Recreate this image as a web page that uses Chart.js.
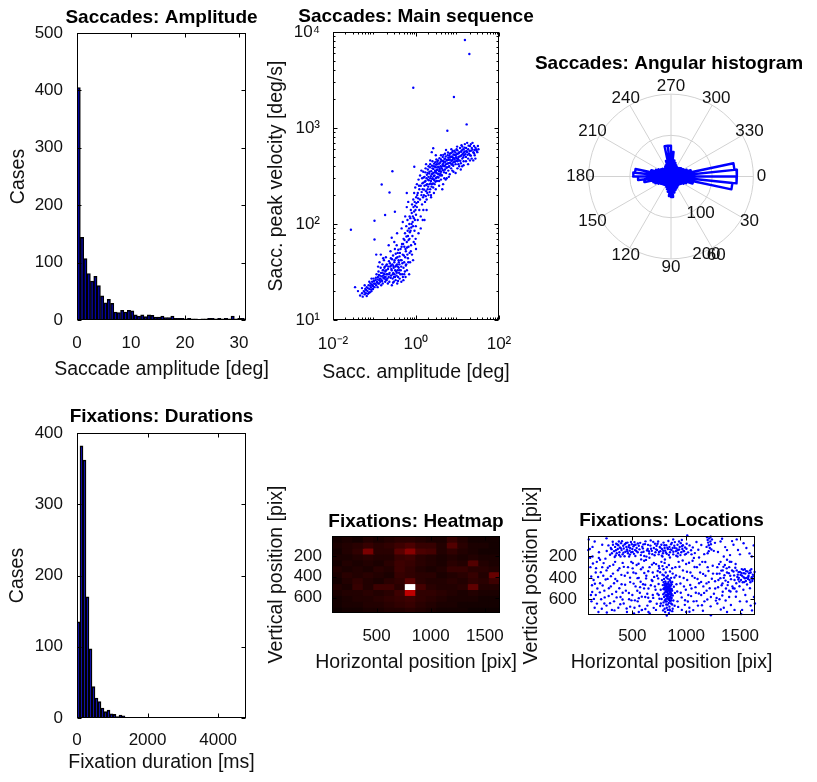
<!DOCTYPE html>
<html><head><meta charset="utf-8">
<script src="https://cdn.jsdelivr.net/npm/chart.js@4.4.1/dist/chart.umd.min.js"></script>
<style>
html,body{margin:0;padding:0;background:#fff;}
#fig{position:relative;width:817px;height:782px;overflow:hidden;background:#fff;}
canvas{position:absolute;}
</style></head><body><div id="fig">
<canvas id="cAmp" width="285" height="392" style="left:0px;top:0px"></canvas>
<canvas id="cMain" width="290" height="392" style="left:262px;top:0px"></canvas>
<canvas id="cRose" width="290" height="270" style="left:527px;top:40px"></canvas>
<canvas id="cDur" width="285" height="387" style="left:0px;top:395px"></canvas>
<canvas id="cHeat" width="265" height="220" style="left:262px;top:470px"></canvas>
<canvas id="cLoc" width="290" height="220" style="left:517px;top:470px"></canvas>
</div>
<script>
// ================= DATA =================
const ampBinWidth = 0.62;
const ampCounts = [405,144,107,81,68,76,60,42,30,36,29,14,13,17,14,17,16,9,7,9,6,9,8,5,5,7,4,4,7,3,3,3,2,3,2,2,1,2,2,3,3,2,3,2,3,2,7,2,3,3];
const ampXTicks = [0,10,20,30];
const ampYTicks = [0,100,200,300,400,500];

const durBinWidth = 85;
const durCounts = [135,382,362,170,97,44,28,23,14,9,11,6,5,2,4,3];
const durXTicks = [0,2000,4000];
const durYTicks = [0,100,200,300,400];

const msXTicks = [0.01,1,100];
const msYTicks = [10,100,1000,10000];
const mainSeqPoints = [
[0.045,18],[0.05,19],[0.052,17.5],[0.055,20],[0.058,18.5],[0.06,21],[0.062,19],[0.065,22],[0.068,20],[0.07,18.8],[0.072,23],[0.075,21],[0.078,19.5],[0.08,24],[0.082,22],[0.085,20],[0.088,25],[0.09,23],[0.092,21],[0.095,27],[0.098,24],[0.1,22],[0.05,21.5],[0.065,17.8],[0.075,25],[0.085,27],[0.058,23],[0.04,20],
[0.105,26],[0.11,23],[0.112,30],[0.115,25],[0.121,28],[0.119,22],[0.125,32],[0.131,26],[0.129,24],[0.135,29],[0.141,35],[0.139,27],[0.145,23],[0.151,31],[0.148,26],[0.155,38],[0.161,29],[0.158,24],[0.165,33],[0.171,27],[0.169,42],[0.175,30],[0.181,25],[0.178,36],[0.185,28],[0.191,33],[0.188,45],[0.195,26],[0.201,30],[0.198,38],[0.122,36],[0.162,44],[0.142,48],[0.132,40],
[0.21,24],[0.212,34],[0.22,28],[0.223,41],[0.231,31],[0.228,25],[0.24,36],[0.243,52],[0.251,29],[0.248,44],[0.26,33],[0.262,23],[0.27,38],[0.273,27],[0.28,47],[0.283,31],[0.29,35],[0.292,25],[0.3,40],[0.303,30],[0.31,55],[0.313,28],[0.32,36],[0.323,26],[0.33,44],[0.333,32],[0.34,29],[0.343,60],[0.35,38],[0.353,24],[0.36,33],[0.363,50],[0.37,28],[0.38,42],[0.383,35],[0.39,31],[0.4,46],[0.404,27],[0.397,38],[0.22,60],[0.26,72],[0.3,65],[0.35,80],
[0.42,30],[0.424,55],[0.44,36],[0.443,25],[0.45,42],[0.46,62],[0.463,30],[0.48,48],[0.483,28],[0.5,35],[0.503,70],[0.497,26],[0.52,40],[0.523,58],[0.54,32],[0.543,80],[0.55,45],[0.56,28],[0.57,52],[0.58,38],[0.583,95],[0.6,65],[0.604,33],[0.62,48],[0.623,110],[0.64,75],[0.65,40],[0.66,58],[0.68,90],[0.683,30],[0.7,50],[0.703,120],[0.697,70],[0.45,90],[0.55,120],[0.48,105],[0.6,150],[0.65,170],
[0.72,40],[0.74,85],[0.75,140],[0.76,60],[0.78,100],[0.8,48],[0.804,160],[0.82,75],[0.84,120],[0.85,95],[0.86,180],[0.88,65],[0.9,135],[0.904,210],[0.92,85],[0.94,110],[0.95,155],[0.96,240],[0.98,70],[1.0,125],[1.01,190],[0.99,95],[1.05,150],[1.052,260],[1.1,110],[1.104,210],[1.12,170],[1.15,80],[1.153,290],[1.2,140],[1.203,230],[0.85,42],[1.0,55],
[1.25,180],[1.253,320],[1.3,120],[1.304,250],[1.35,200],[1.4,160],[1.404,300],[1.45,230],[1.5,270],[1.503,140],[1.497,350],[1.55,200],[1.6,250],[1.604,310],[1.65,170],[1.7,280],[1.704,380],[1.75,220],[1.8,300],[1.804,180],[1.85,260],[1.9,340],[1.904,230],[1.95,290],[2.0,200],[2.004,400],[1.996,310],[1.3,90],[1.6,110],
[2.1,260],[2.104,350],[2.2,230],[2.204,300],[2.196,420],[2.3,280],[2.304,190],[2.4,330],[2.404,260],[2.5,380],[2.504,300],[2.496,450],[2.6,240],[2.604,340],[2.7,290],[2.704,400],[2.8,320],[2.804,260],[2.9,360],[2.904,440],[3.0,300],[3.004,390],[2.996,230],[3.1,340],[3.2,280],[3.204,420],[3.3,370],[3.304,310],[3.4,460],[3.5,330],[3.504,390],[3.6,280],[3.7,360],[3.704,430],[3.8,320],[3.9,400],[4.0,350],[4.004,470],[3.996,290],[2.4,560],[3.0,520],
[4.2,380],[4.204,320],[4.4,420],[4.404,500],[4.6,360],[4.604,450],[4.8,400],[4.804,300],[5.0,480],[5.004,370],[4.996,540],[5.3,420],[5.304,340],[5.6,460],[5.604,390],[5.8,520],[6.0,430],[6.004,360],[5.996,490],[6.3,400],[6.5,470],[6.504,540],[6.8,430],[7.0,380],[7.004,500],[7.3,460],[7.5,560],[7.504,420],[7.8,490],[8.0,440],[8.004,530],[4.5,260],[5.5,300],[6.5,330],[7.5,360],
[8.5,470],[8.504,580],[9.0,420],[9.004,520],[9.5,480],[9.504,600],[10,450],[10.04,540],[9.96,380],[10.5,500],[11,560],[11.04,460],[11.5,620],[12,510],[12.04,430],[12.5,580],[13,480],[13.04,640],[13.5,540],[14,600],[14.04,450],[14.5,520],[15,570],[15.04,680],[9,340],[11,400],[13,400],
[16,500],[16.1,620],[17,560],[17.1,700],[18,480],[18.1,600],[19,540],[20,650],[20.1,520],[21,580],[22,480],[22.1,620],[24,560],[25,650],[26,520],[28,600],[30,560],[32,600],[18,420],[24,460],[27,480],[23,700],
[1.37,215],[1.42,265],[1.48,190],[1.53,305],[1.58,228],[1.63,275],[1.68,345],[1.72,195],[1.77,255],[1.83,325],[1.87,210],[1.93,370],[1.97,245],[2.04,285],[2.08,335],[2.13,215],[2.17,390],[2.24,265],[2.28,315],[2.33,355],[2.37,245],[2.43,405],[2.47,295],[2.53,335],[2.57,265],[2.63,375],[2.68,315],[2.73,425],[2.77,285],[2.83,345],[2.88,395],[2.93,275],[2.97,355],[3.05,415],[3.12,305],[3.18,365],[3.25,445],[3.35,335],[3.42,395],[3.48,305],[3.55,425],[3.62,355],[3.68,485],[3.75,375],[3.85,335],[3.92,445],[4.05,395],[4.12,325],[4.25,455],[4.35,365],[4.45,405],[4.55,525],[4.65,435],[4.75,345],[4.85,475],[4.95,405],[5.1,445],[5.2,505],[5.4,385],[5.5,465],[5.7,425],[5.9,555],[6.1,465],[6.2,395],[6.4,515],[6.6,435],[6.7,495],[6.9,545],[7.1,455],[7.2,415],[7.4,505],[7.6,465],[7.7,575],[7.9,405],[8.2,485],[8.4,525],[8.7,445],[8.9,555],[9.2,495],[9.4,455],[9.7,535],[9.9,585],[10.3,475],[10.7,545],[11.2,505],[11.7,455],[12.2,565],[12.7,525],[13.2,595],[13.8,495],[14.3,555],[14.8,625],[15.5,535],[16.5,575],[17.5,525],[18.5,655],[19.5,575],[21,515],[23,595],[25,545],[27,625],[29,575],[31,650],[26,590],[20,460],[14,410],[12,370],[8,350],[6.2,310],[3.6,250],[2.3,200],[5.2,290],[1.8,140],[1.45,110],[2.7,210],[4.3,230],[10.5,420],[16,450],[21,680],[12.5,660],[9.8,640],[7.1,600],[5.3,590],[4,520],[3.1,470],[2.2,460],[1.75,420],[1.35,360],
[0.057,19.7],[0.063,20.5],[0.069,21.5],[0.074,19.2],[0.079,22.8],[0.083,20.8],[0.087,23.5],[0.093,22.5],[0.097,25.5],[0.103,23.8],[0.108,27.5],[0.113,24.5],[0.118,26.5],[0.123,24],[0.128,29.5],[0.133,27],[0.138,25],[0.143,31],[0.148,28.5],[0.153,25.5],[0.158,33],[0.163,27.5],[0.168,30.5],[0.173,35],[0.178,28],[0.183,32],[0.188,26.5],[0.193,37],[0.198,30],[0.205,27],[0.215,36],[0.225,30],[0.235,39],[0.245,27.5],[0.255,34],[0.265,43],[0.275,30],[0.285,36.5],[0.295,28],[0.305,42],[0.315,33],[0.325,49],[0.335,37],[0.345,31],[0.355,45],[0.365,36],[0.375,54],[0.385,40],[0.395,33],[0.41,50],[0.43,42],[0.45,58],[0.47,39],[0.49,62],[0.51,47],[0.53,68],[0.56,55],[0.59,74],[0.61,57],[0.63,85],[0.66,68],[0.69,100],[0.71,82],[0.73,115],[0.77,92],[0.79,130],[0.83,105],[0.87,150],[0.89,115],[0.93,170],[0.97,140],[1.02,165],[1.07,200],[1.13,185],[1.18,250],[0.43,33],[0.37,25.5],[0.52,30],[0.57,37],[0.64,44],[0.75,52],[0.95,62],[0.25,37],[0.28,24.5],
[0.027,87],[0.034,22],[0.1,108],[0.1,69],[0.11,48],[0.149,258],[0.18,124],[0.23,213],[0.27,355],[0.31,134],[0.6,210],[0.86,2630],[0.91,395],[2.6,615],[5.7,935],[8.2,2100],[15.1,8260],[19.3,5890],[16.6,1090]
];

const roseBinDeg = 6;
const roseCounts = [160,150,55,40,35,30,28,25,25,28,30,32,35,40,50,48,38,32,28,25,25,25,25,28,30,35,40,45,65,80,92,88,50,40,35,30,28,25,25,25,28,30,40,75,75,60,40,35,30,28,25,25,28,30,32,35,40,50,155,160];
const polarRings = [100,200];
const polarAngles = [0,30,60,90,120,150,180,210,240,270,300,330];

const heatXRange = [88,1640];
const heatYRange = [8,748];
const heatCounts = [
[3,4,3,5,4,5,6,6,5,4,4,8,5,3,3,3],
[4,5,6,8,6,7,9,11,8,8,5,12,6,4,4,3],
[3,5,7,18,6,6,13,20,11,10,5,7,5,4,3,3],
[4,4,5,6,5,5,8,9,6,5,4,5,4,5,4,4],
[3,5,4,5,4,6,9,8,6,5,4,6,5,12,5,4],
[5,4,5,4,6,5,9,7,5,4,5,8,8,6,6,5],
[4,6,5,6,5,4,8,7,6,6,4,5,6,8,5,15],
[3,5,7,5,4,6,7,13,6,5,5,6,5,7,6,9],
[5,4,8,5,9,9,6,100,10,6,5,5,6,14,5,5],
[4,5,5,6,5,6,9,28,7,7,6,5,4,5,4,4],
[3,4,5,5,6,7,8,9,7,6,5,4,4,4,3,3],
[3,4,4,5,5,6,7,8,6,5,4,4,3,3,3,3],
[2,3,3,4,4,5,5,6,5,4,3,3,3,2,2,2]
];
const posXTicks = [500,1000,1500];
const posYTicks = [200,400,600];
const fixationPoints = [
[300,120],[320,90],[330,150],[340,110],[350,80],[355,170],[365,130],[370,95],[380,160],[385,115],[395,75],[400,140],[410,180],[415,100],[420,125],[430,85],[435,155],[445,110],[450,135],[455,70],[460,170],[470,95],[475,145],[480,120],[490,160],[495,85],[500,130],[510,105],[515,175],[525,140],[530,90],[540,120],[550,160],[560,100],[345,190],[390,200],[310,170],[470,200],[520,65],[375,60],
[700,120],[710,80],[715,160],[725,100],[730,140],[740,60],[745,180],[755,110],[760,150],[770,90],[775,130],[785,170],[790,70],[800,120],[805,145],[815,95],[820,175],[830,130],[835,55],[845,110],[850,160],[860,85],[865,140],[875,120],[880,180],[890,100],[895,65],[905,150],[910,125],[920,90],[925,170],[935,135],[940,110],[950,75],[955,160],[965,130],[970,95],[980,150],[990,115],[1000,175],[1005,80],[960,45],[880,40],[780,200],[850,210],
[1195,20],[1200,45],[1205,70],[1210,95],[1215,30],[1220,120],[1225,60],[1230,85],[1235,135],[1210,150],[1190,110],[1240,40],[1228,15],[1200,170],
[790,440],[800,470],[805,500],[810,450],[815,530],[820,480],[825,560],[830,510],[835,440],[840,590],[845,470],[850,540],[855,500],[860,610],[865,460],[870,520],[795,580],[800,540],[810,600],[820,620],[830,570],[840,520],[850,480],[860,560],[800,510],[812,490],[822,455],[835,600],[845,610],[855,580],[865,550],[825,590],[818,515],[838,495],[848,525],[858,445],[808,565],[828,480],[842,555],[852,620],
[770,250],[780,290],[790,320],[800,260],[810,350],[820,300],[830,380],[840,280],[850,340],[860,400],[870,310],[780,370],[795,410],[815,395],[845,415],[875,360],[765,640],[785,660],[800,690],[815,650],[830,700],[845,670],[860,640],[875,690],[790,630],[820,680],[850,705],[870,650],[805,720],[840,730],
[1470,330],[1480,370],[1490,400],[1500,345],[1510,420],[1520,380],[1530,325],[1540,440],[1550,360],[1560,400],[1570,340],[1580,380],[1590,420],[1600,350],[1610,395],[1620,370],[1495,435],[1515,355],[1535,395],[1555,430],[1575,410],[1595,330],[1615,430],[1545,320],[1485,415],
[1290,300],[1300,420],[1310,360],[1320,250],[1330,470],[1340,330],[1350,400],[1360,280],[1370,500],[1380,350],[1390,440],[1400,300],[1410,380],[1420,250],[1430,480],[1440,340],[1450,420],[1460,270],[1400,520],[1340,530],[1450,500],[1380,230],
[105,130],[110,300],[115,560],[120,620],[130,200],[140,420],[150,680],[160,350],[170,250],[175,500],[185,720],[190,160],[200,450],[210,600],[220,300],[230,380],[240,520],[250,220],[260,660],[270,410],[280,570],[290,290],[300,480],[310,700],[320,360],[330,620],[340,250],[350,530],[360,430],[370,680],[380,310],[390,580],[400,460],[410,260],[420,640],[430,380],[440,520],[450,720],[460,300],[470,600],[480,440],[490,250],[500,560],[510,350],[520,680],[530,480],[540,280],[550,620],[560,400],[570,540],[580,320],[590,700],[600,460],[610,240],[620,580],[630,380],[640,660],[650,500],[660,300],[670,620],[680,420],[690,560],[700,260],[710,480],[720,700],[730,380],[745,560],[750,310],[125,470],[200,230],[260,330],[330,450],[410,540],[480,670],[560,720],[650,720],[160,560],[240,640],
[900,300],[910,460],[920,620],[930,250],[940,390],[950,540],[960,700],[970,330],[980,480],[990,610],[1000,270],[1010,420],[1020,560],[1030,680],[1040,350],[1050,500],[1060,240],[1070,620],[1080,400],[1090,540],[1100,300],[1110,660],[1120,450],[1130,350],[1140,560],[1150,250],[1160,480],[1170,620],[1180,380],[1190,520],[1200,300],[1210,440],[1230,580],[1250,360],[1270,500],[1290,640],[920,200],[1050,180],[1120,210],[1000,720],
[1310,600],[1350,680],[1400,580],[1450,700],[1500,620],[1550,560],[1600,660],[1380,720],[1520,700],[1630,580],
[1320,60],[1380,140],[1440,90],[1500,180],[1560,120],[1610,200],[1350,200],[1470,40],
[95,40],[150,60],[220,90],[260,30],[130,110],
[1010,2],[820,752],[1230,750],[90,140],
[262,148],[278,96],[293,183],[307,131],[318,62],[336,205],[348,142],[361,88],[377,186],[392,122],[404,57],[417,164],[428,198],[441,73],[453,151],[466,112],[478,182],[487,64],[503,157],[517,93],[528,196],[537,148],[551,78],[566,133],[579,187],[592,109],[604,156],[618,84],[631,201],[643,129],[657,172],[668,98],[681,147],[694,63],[707,189],[721,133],[734,81],[748,158],[761,117],[774,192],[787,146],[798,94],[812,163],[826,117],[839,186],[853,133],[867,72],[881,155],[894,119],[908,193],[921,142],[934,59],[947,187],[961,104],[976,148],[989,182],[1003,127],[1018,161],[1032,96],[1046,142],
[573,72],[586,161],[598,124],[611,196],[622,58],[636,143],[646,91],[659,212],[674,127],[686,178],[582,227],[627,232],[671,49],[603,86],[654,151],[1062,115],[1081,168],[1096,64],[1113,137],[1141,92],[1168,178],[1257,147],[1072,213],
[108,212],[118,388],[127,532],[134,265],[143,597],[152,455],[163,309],[171,641],[182,392],[189,213],[198,536],[207,348],[216,689],[224,471],[233,262],[243,583],[252,416],[263,724],[272,305],[282,498],[293,637],[301,384],[312,552],[323,277],[334,705],[342,411],[354,583],[366,329],[379,497],[388,648],[398,372],[409,603],[421,297],[433,465],[447,687],[456,352],[468,542],[479,398],[492,611],[503,311],
[512,454],[524,611],[533,358],[546,521],[558,268],[566,664],[577,437],[588,576],[597,302],[609,499],[621,692],[628,405],[639,549],[648,338],[661,622],[672,469],[683,276],[694,588],[703,391],[716,512],[727,643],[736,336],[744,458],[752,596],[516,733],[587,702],[662,733],[721,271],[549,403],[611,354],[687,429],[733,548],[505,262],[572,487],[648,587],[699,681],[740,405],[620,465],[560,590],[690,350],
[746,289],[758,347],[764,512],[772,598],[776,421],[783,468],[788,553],[793,377],[797,492],[802,612],[806,433],[811,528],[816,466],[819,575],[823,503],[827,407],[832,547],[836,459],[839,636],[843,498],[847,576],[851,427],[854,523],[858,471],[862,592],[866,505],[871,438],[876,566],[881,612],[886,484],[891,397],[896,541],[788,505],[799,458],[808,486],[817,557],[826,533],[833,487],[841,463],[849,509],[857,537],[864,585],[811,621],[829,651],[846,697],[871,712],[786,705],[759,664],[893,661],[803,228],
[906,377],[917,528],[926,672],[938,296],[947,453],[959,583],[968,237],[977,402],[988,653],[997,512],[1008,343],[1016,621],[1027,258],[1038,467],[1046,571],[1057,382],[1066,702],[1078,299],[1087,487],[1097,618],[1106,411],[1118,546],[1127,276],[1139,438],[1147,657],[1158,363],[1167,541],[1178,251],[1189,452],[1197,603],[1208,336],[1219,497],[1228,667],[1239,408],[1247,286],[1258,549],[1269,432],[1277,613],[1156,708],[1031,718],
[1286,362],[1297,488],[1306,271],[1318,403],[1327,332],[1338,452],[1347,297],[1356,375],[1366,426],[1377,311],[1386,468],[1397,356],[1406,249],[1417,412],[1427,331],[1436,497],[1446,377],[1457,305],[1466,451],[1476,392],[1487,346],[1496,479],[1506,372],[1517,318],[1526,441],[1537,356],[1546,404],[1557,337],[1566,462],[1577,392],[1586,356],[1597,441],[1606,318],[1617,412],[1627,386],[1636,345],[1532,512],[1468,528],[1593,497],[1412,528],
[1268,72],[1296,158],[1334,34],[1363,112],[1408,187],[1427,56],[1482,139],[1534,76],[1589,171],[1628,96],
[1283,588],[1322,697],[1367,612],[1416,655],[1462,577],[1511,738],[1563,621],[1612,705],[1639,640],[1336,566]
];

// ================= STYLE / HELPERS =================
const FONT = '"Liberation Sans", Arial, Helvetica, sans-serif';
const TICK_FONT = {family: FONT, size: 17};
const TXT = '#111';
const BAR_FACE = 'rgb(0,0,170)';
const DOT = 'rgb(0,0,255)';
const SUP = {'-':'\u207B','0':'\u2070','1':'\u00B9','2':'\u00B2','3':'\u00B3','4':'\u2074'};
const logLabel = v => '10' + String(Math.round(Math.log10(v))).split('').map(c => SUP[c]).join('');

function axis(type, min, max, tickVals, pad, isX, size, extra) {
  return Object.assign({
    type, min, max, offset: false,
    grid: {display: false, drawTicks: false},
    border: {display: false},
    ticks: {font: TICK_FONT, color: TXT, padding: pad, autoSkip: false, maxRotation: 0, minRotation: 0,
            callback: type === 'logarithmic' ? (v => logLabel(v)) : (v => String(v))},
    afterBuildTicks: s => { s.ticks = tickVals.map(v => ({value: v})); },
    afterFit: s => { if (isX) s.height = size; else s.width = size; }
  }, extra || {});
}

const matlabPlugin = {
  id: 'matlab',
  afterDraw(chart, args, o) {
    if (!o || !o.on) return;
    const ctx = chart.ctx, a = chart.chartArea;
    const xs = chart.scales.x, ys = chart.scales.y;
    ctx.save();
    ctx.strokeStyle = '#000'; ctx.lineWidth = 1;
    const L = Math.round(a.left) + 0.5, R = Math.round(a.right) - 0.5;
    const T = Math.round(a.top) + 0.5, B = Math.round(a.bottom) - 0.5;
    ctx.beginPath();
    const xMark = (v, len) => { const p = Math.round(xs.getPixelForValue(v)) + 0.5; ctx.moveTo(p, B); ctx.lineTo(p, B - len); ctx.moveTo(p, T); ctx.lineTo(p, T + len); };
    const yMark = (v, len) => { const p = Math.round(ys.getPixelForValue(v)) + 0.5; ctx.moveTo(L, p); ctx.lineTo(L + len, p); ctx.moveTo(R, p); ctx.lineTo(R - len, p); };
    xs.ticks.forEach(t => xMark(t.value, 4));
    ys.ticks.forEach(t => yMark(t.value, 4));
    const minor = (s, f) => {
      if (s.type !== 'logarithmic') return;
      const d0 = Math.round(Math.log10(s.min)), d1 = Math.round(Math.log10(s.max));
      for (let d = d0; d < d1; d++) for (let k = 2; k < 10; k++) f(k * Math.pow(10, d), 2);
    };
    minor(xs, xMark); minor(ys, yMark);
    ctx.stroke();
    ctx.strokeRect(L, T, R - L, B - T);
    ctx.fillStyle = '#000';
    ctx.textAlign = 'center'; ctx.textBaseline = 'middle';
    const cx = (a.left + a.right) / 2, cy = (a.top + a.bottom) / 2;
    if (o.title) { ctx.font = 'bold 19px ' + FONT; ctx.fillText(o.title, cx, a.top - o.tOff); }
    ctx.fillStyle = TXT;
    ctx.font = '19.5px ' + FONT;
    if (o.xTitle) ctx.fillText(o.xTitle, cx, a.bottom + o.xOff);
    if (o.yTitle) { ctx.save(); ctx.translate(a.left - o.yOff, cy); ctx.rotate(-Math.PI / 2); ctx.fillText(o.yTitle, 0, 0); ctx.restore(); }
    ctx.restore();
  }
};

const polarPlugin = {
  id: 'polargrid',
  beforeDatasetsDraw(chart, args, o) {
    if (!o || !o.on) return;
    const ctx = chart.ctx, xs = chart.scales.x, ys = chart.scales.y;
    const P = (r, deg) => [xs.getPixelForValue(r * Math.cos(deg * Math.PI / 180)), ys.getPixelForValue(r * Math.sin(deg * Math.PI / 180))];
    const [cx, cy] = P(0, 0);
    const rmax = polarRings[polarRings.length - 1];
    ctx.save();
    ctx.strokeStyle = '#d2d2d2'; ctx.lineWidth = 1;
    polarRings.forEach(r => { ctx.beginPath(); ctx.arc(cx, cy, Math.abs(P(r, 0)[0] - cx), 0, 2 * Math.PI); ctx.stroke(); });
    polarAngles.forEach(d => { const [x, y] = P(rmax, d); ctx.beginPath(); ctx.moveTo(cx, cy); ctx.lineTo(x, y); ctx.stroke(); });
    ctx.restore();
  },
  afterDraw(chart, args, o) {
    if (!o || !o.on) return;
    const ctx = chart.ctx, xs = chart.scales.x, ys = chart.scales.y, a = chart.chartArea;
    const P = (r, deg) => [xs.getPixelForValue(r * Math.cos(deg * Math.PI / 180)), ys.getPixelForValue(r * Math.sin(deg * Math.PI / 180))];
    const rmax = polarRings[polarRings.length - 1];
    ctx.save();
    ctx.fillStyle = TXT; ctx.font = '17px ' + FONT;
    ctx.textAlign = 'center'; ctx.textBaseline = 'middle';
    polarAngles.forEach(d => { const [x, y] = P(rmax * 1.1, d); ctx.fillText(String(d), x, y); });
    ctx.textAlign = 'left'; ctx.textBaseline = 'bottom';
    polarRings.forEach(r => { const [x, y] = P(r + 5, 82); ctx.fillText('  ' + r, x, y + 3); });
    ctx.fillStyle = '#000'; ctx.font = 'bold 19px ' + FONT;
    ctx.textAlign = 'center'; ctx.textBaseline = 'middle';
    ctx.fillText(o.title, (a.left + a.right) / 2 - 2, o.titleY);
    ctx.restore();
  }
};
Chart.register(matlabPlugin, polarPlugin);

const base = {responsive: false, animation: false, devicePixelRatio: 1, events: []};
function histData(counts, w) { return counts.map((v, i) => ({x: (i + 0.5) * w, y: v})); }
function histDataset(counts, w) {
  return {data: histData(counts, w), backgroundColor: BAR_FACE, borderColor: '#000', borderWidth: 1.4,
          barPercentage: 1, categoryPercentage: 1, borderSkipped: 'start'};
}

// ---------- Saccades: Amplitude ----------
new Chart(document.getElementById('cAmp'), {
  type: 'bar',
  data: {datasets: [histDataset(ampCounts, ampBinWidth)]},
  options: Object.assign({}, base, {
    layout: {padding: {left: 0, right: 39, top: 33, bottom: 0}},
    scales: {
      x: axis('linear', 0, 31.3, ampXTicks, 13, true, 72),
      y: axis('linear', 0, 500, ampYTicks, 14, false, 77)
    },
    plugins: {legend: {display: false}, tooltip: {enabled: false},
      matlab: {on: true, title: 'Saccades: Amplitude', tOff: 15, xTitle: 'Saccade amplitude [deg]', xOff: 50, yTitle: 'Cases', yOff: 58}}
  })
});

// ---------- Saccades: Main sequence ----------
new Chart(document.getElementById('cMain'), {
  type: 'scatter',
  data: {datasets: [{data: mainSeqPoints.map(p => ({x: p[0], y: p[1]})), pointRadius: 1.2, pointBorderWidth: 0,
                     pointBackgroundColor: DOT, showLine: false, clip: false}]},
  options: Object.assign({}, base, {
    layout: {padding: {left: 0, right: 53, top: 32, bottom: 0}},
    scales: {
      x: axis('logarithmic', 0.01, 100, msXTicks, 14, true, 72),
      y: axis('logarithmic', 10, 10000, msYTicks, 13, false, 71)
    },
    plugins: {legend: {display: false}, tooltip: {enabled: false},
      matlab: {on: true, title: 'Saccades: Main sequence', tOff: 15, xTitle: 'Sacc. amplitude [deg]', xOff: 53, yTitle: 'Sacc. peak velocity [deg/s]', yOff: 56.5}}
  })
});

// ---------- Saccades: Angular histogram ----------
const rosePts = [];
roseCounts.forEach((r, i) => {
  const a1 = i * roseBinDeg * Math.PI / 180, a2 = (i + 1) * roseBinDeg * Math.PI / 180;
  rosePts.push({x: 0, y: 0}, {x: r * Math.cos(a1), y: r * Math.sin(a1)}, {x: r * Math.cos(a2), y: r * Math.sin(a2)});
});
rosePts.push({x: 0, y: 0});
new Chart(document.getElementById('cRose'), {
  type: 'scatter',
  data: {datasets: [{data: rosePts, showLine: true, borderColor: 'rgb(0,0,255)', borderWidth: 2.4, pointRadius: 0,
                     fill: false, tension: 0, borderJoinStyle: 'round', clip: false}]},
  options: Object.assign({}, base, {
    layout: {padding: {left: 49.3, right: 51.3, top: 41.8, bottom: 38.8}},
    scales: {
      x: {type: 'linear', min: -230, max: 230, display: false},
      y: {type: 'linear', min: -230, max: 230, reverse: true, display: false}
    },
    plugins: {legend: {display: false}, tooltip: {enabled: false},
      polargrid: {on: true, title: 'Saccades: Angular histogram', titleY: 24}}
  })
});

// ---------- Fixations: Durations ----------
new Chart(document.getElementById('cDur'), {
  type: 'bar',
  data: {datasets: [histDataset(durCounts, durBinWidth)]},
  options: Object.assign({}, base, {
    layout: {padding: {left: 0, right: 39, top: 38, bottom: 0}},
    scales: {
      x: axis('linear', 0, 4790, durXTicks, 12, true, 64),
      y: axis('linear', 0, 400, durYTicks, 14, false, 77)
    },
    plugins: {legend: {display: false}, tooltip: {enabled: false},
      matlab: {on: true, title: 'Fixations: Durations', tOff: 16, xTitle: 'Fixation duration [ms]', xOff: 45, yTitle: 'Cases', yOff: 59}}
  })
});

// ---------- Fixations: Heatmap ----------
function hot(v) {
  v = Math.max(0, Math.min(1, v));
  const r = Math.min(1, v / 0.375), g = Math.max(0, Math.min(1, (v - 0.375) / 0.375)), b = Math.max(0, Math.min(1, (v - 0.75) / 0.25));
  return 'rgb(' + Math.round(r * 255) + ',' + Math.round(g * 255) + ',' + Math.round(b * 255) + ')';
}
const heatMax = Math.max(...heatCounts.flat());
const nCols = heatCounts[0].length, nRows = heatCounts.length;
const cw = (heatXRange[1] - heatXRange[0]) / nCols, ch = (heatYRange[1] - heatYRange[0]) / nRows;
const heatDatasets = heatCounts.map((row, r) => ({
  data: row.map((v, c) => ({x: heatXRange[0] + (c + 0.5) * cw, y: [heatYRange[0] + r * ch, heatYRange[0] + (r + 1) * ch]})),
  backgroundColor: row.map(v => hot(v / heatMax)),
  borderWidth: 0, inflateAmount: 0.7, barPercentage: 1, categoryPercentage: 1, grouped: false
}));
new Chart(document.getElementById('cHeat'), {
  type: 'bar',
  data: {datasets: heatDatasets},
  options: Object.assign({}, base, {
    layout: {padding: {left: 0, right: 27, top: 66, bottom: 0}},
    scales: {
      x: axis('linear', heatXRange[0], heatXRange[1], posXTicks, 13, true, 77),
      y: axis('linear', heatYRange[0], heatYRange[1], posYTicks, 10, false, 70, {reverse: true})
    },
    plugins: {legend: {display: false}, tooltip: {enabled: false},
      matlab: {on: true, title: 'Fixations: Heatmap', tOff: 14, xTitle: 'Horizontal position [pix]', xOff: 50, yTitle: 'Vertical position [pix]', yOff: 55}}
  })
});

// ---------- Fixations: Locations ----------
new Chart(document.getElementById('cLoc'), {
  type: 'scatter',
  data: {datasets: [{data: fixationPoints.map(p => ({x: p[0], y: p[1]})), pointRadius: 1.2, pointBorderWidth: 0,
                     pointBackgroundColor: DOT, showLine: false, clip: false}]},
  options: Object.assign({}, base, {
    layout: {padding: {left: 0, right: 52, top: 66, bottom: 0}},
    scales: {
      x: axis('linear', heatXRange[0], heatXRange[1], posXTicks, 11, true, 75),
      y: axis('linear', heatYRange[0], heatYRange[1], posYTicks, 11, false, 71, {reverse: true})
    },
    plugins: {legend: {display: false}, tooltip: {enabled: false},
      matlab: {on: true, title: 'Fixations: Locations', tOff: 15, xTitle: 'Horizontal position [pix]', xOff: 48, yTitle: 'Vertical position [pix]', yOff: 56}}
  })
});
</script>
</body></html>
